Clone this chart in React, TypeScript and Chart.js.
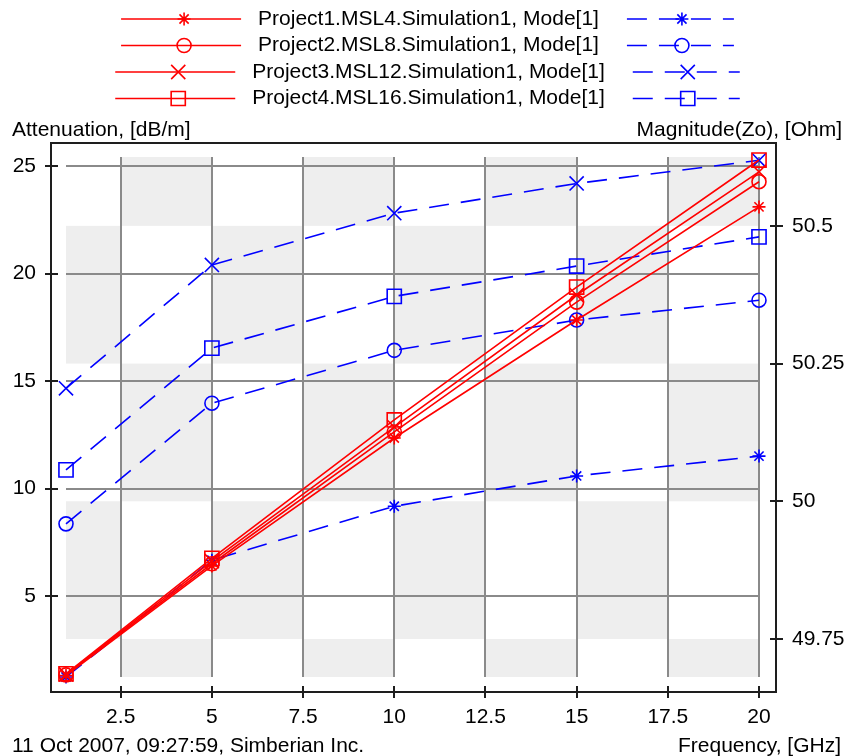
import React, { useEffect, useRef } from 'react';
import { Chart, registerables } from 'chart.js';
import { drawPoint } from 'chart.js/helpers';

Chart.register(...registerables);

// ---------------- data ----------------
const frequency = [1, 5, 10, 15, 20];
const seriesNames = [
  'Project1.MSL4.Simulation1, Mode[1]',
  'Project2.MSL8.Simulation1, Mode[1]',
  'Project3.MSL12.Simulation1, Mode[1]',
  'Project4.MSL16.Simulation1, Mode[1]',
];
const attenuation1 = [1.3, 6.4, 12.35, 17.84, 23.1];
const attenuation2 = [1.33, 6.5, 12.63, 18.67, 24.27];
const attenuation3 = [1.35, 6.62, 12.86, 19.0, 24.73];
const attenuation4 = [1.38, 6.75, 13.19, 19.37, 25.28];
const zo1 = [49.681, 49.893, 49.991, 50.046, 50.082];
const zo2 = [49.959, 50.178, 50.274, 50.329, 50.365];
const zo3 = [50.205, 50.429, 50.523, 50.577, 50.619];
const zo4 = [50.057, 50.278, 50.372, 50.427, 50.48];
const xTicks = [2.5, 5, 7.5, 10, 12.5, 15, 17.5, 20];
const leftTicks = [5, 10, 15, 20, 25];
const rightTicks = [49.75, 50, 50.25, 50.5];
const xRange = [1, 20];
const leftRange = [1.233, 25.42];
const rightRange = [49.681, 50.625];
const leftTitle = 'Attenuation, [dB/m]';
const rightTitle = 'Magnitude(Zo), [Ohm]';
const xTitle = 'Frequency, [GHz]';
const footer = '11 Oct 2007, 09:27:59, Simberian Inc.';

const markerStyles = ['star', 'circle', 'crossRot', 'rect'];
const markerRadius = [6.5, 7, 10, 10];
const RED = '#ff0000';
const BLUE = '#0000ff';
const DASH = [20, 12];

function pickFont() {
  const c = document.createElement('canvas').getContext('2d');
  if (!c) return { family: "'Liberation Sans', Arial, sans-serif", size: 21 };
  c.font = "26px 'Liberation Sans Narrow', monospace";
  const w1 = c.measureText('Project1.MSL4').width;
  c.font = '26px monospace';
  const w2 = c.measureText('Project1.MSL4').width;
  if (Math.abs(w1 - w2) > 1) return { family: "'Liberation Sans Narrow', 'Liberation Sans', sans-serif", size: 26 };
  return { family: "'Liberation Sans', Arial, sans-serif", size: 21 };
}

export default function App() {
  const ref = useRef<HTMLCanvasElement | null>(null);

  useEffect(() => {
    if (!ref.current) return;
    const F = pickFont();
    const fontStr = `${F.size}px ${F.family}`;
    const attSeries = [attenuation1, attenuation2, attenuation3, attenuation4];
    const zoSeries = [zo1, zo2, zo3, zo4];

    const datasets: any[] = [
      ...attSeries.map((arr, i) => ({
        label: seriesNames[i],
        data: frequency.map((f, j) => ({ x: f, y: arr[j] })),
        yAxisID: 'y',
        borderColor: RED,
        borderWidth: 1.6,
        pointStyle: markerStyles[i],
        pointRadius: markerRadius[i],
        pointBorderColor: RED,
        pointBackgroundColor: 'rgba(0,0,0,0)',
        pointBorderWidth: 1.6,
        fill: false,
        tension: 0,
        clip: false,
      })),
      ...zoSeries.map((arr, i) => ({
        label: seriesNames[i] + ' Zo',
        data: frequency.map((f, j) => ({ x: f, y: arr[j] })),
        yAxisID: 'y2',
        borderColor: BLUE,
        borderWidth: 1.6,
        borderDash: DASH,
        pointStyle: markerStyles[i],
        pointRadius: markerRadius[i],
        pointBorderColor: BLUE,
        pointBackgroundColor: 'rgba(0,0,0,0)',
        pointBorderWidth: 1.6,
        fill: false,
        tension: 0,
        clip: false,
      })),
    ];

    const decor = {
      id: 'decor',
      beforeDraw(chart: any) {
        const { ctx, scales } = chart;
        const xs = scales.x;
        const yr = scales.y2;
        const colB = [xs.min, ...xTicks];
        const rowB = [yr.max, ...rightTicks.slice().reverse(), yr.min];
        ctx.save();
        ctx.fillStyle = '#eeeeee';
        for (let c = 0; c < colB.length - 1; c++) {
          const x0 = xs.getPixelForValue(colB[c]);
          const x1 = xs.getPixelForValue(colB[c + 1]);
          for (let r = 0; r < rowB.length - 1; r++) {
            if ((c + r) % 2 === 1) {
              const y0 = yr.getPixelForValue(rowB[r]);
              const y1 = yr.getPixelForValue(rowB[r + 1]);
              ctx.fillRect(x0, y0, x1 - x0, y1 - y0);
            }
          }
        }
        ctx.restore();
      },
      afterDraw(chart: any) {
        const { ctx, chartArea: a, scales } = chart;
        const L = a.left - 15, T = a.top - 14, R = a.right + 17, B = a.bottom + 15;
        ctx.save();
        // frame
        ctx.strokeStyle = '#1e1e1e';
        ctx.lineWidth = 2;
        ctx.setLineDash([]);
        ctx.strokeRect(L, T, R - L, B - T);
        // tick marks
        ctx.beginPath();
        scales.y.ticks.forEach((t: any) => {
          const p = Math.round(scales.y.getPixelForValue(t.value));
          ctx.moveTo(L - 6, p); ctx.lineTo(L + 7, p);
        });
        scales.y2.ticks.forEach((t: any) => {
          const p = Math.round(scales.y2.getPixelForValue(t.value));
          ctx.moveTo(R - 6, p); ctx.lineTo(R + 7, p);
        });
        scales.x.ticks.forEach((t: any) => {
          const p = Math.round(scales.x.getPixelForValue(t.value));
          ctx.moveTo(p, B - 6); ctx.lineTo(p, B + 6);
        });
        ctx.stroke();

        // titles
        ctx.fillStyle = '#000';
        ctx.font = fontStr;
        ctx.textBaseline = 'middle';
        ctx.textAlign = 'left';
        ctx.fillText(leftTitle, 12, T - 13);
        ctx.fillText(footer, 12, B + 54);
        ctx.textAlign = 'right';
        ctx.fillText(rightTitle, 842, T - 13);
        ctx.fillText(xTitle, 841, B + 54);

        // legend
        const rowsY = [19, 45.5, 72, 98.5];
        const cx = 427.5;
        for (let i = 0; i < seriesNames.length; i++) {
          const y = rowsY[i];
          const w = ctx.measureText(seriesNames[i]).width;
          const total = 120 + 17 + w + 28 + 107;
          const s = cx - total / 2;
          const red = datasets[i];
          const blue = datasets[i + 4];
          // red sample
          ctx.setLineDash([]);
          ctx.strokeStyle = RED;
          ctx.lineWidth = 1.6;
          ctx.beginPath(); ctx.moveTo(s, y); ctx.lineTo(s + 120, y); ctx.stroke();
          ctx.fillStyle = 'rgba(0,0,0,0)';
          drawPoint(ctx, { pointStyle: red.pointStyle, radius: red.pointRadius, borderWidth: 1.6, rotation: 0 } as any, s + 63, y);
          // text
          ctx.fillStyle = '#000';
          ctx.textAlign = 'left';
          ctx.fillText(seriesNames[i], s + 137, y);
          // blue sample
          const bs = s + 137 + w + 28;
          ctx.strokeStyle = BLUE;
          ctx.lineWidth = 1.6;
          ctx.setLineDash(DASH);
          ctx.beginPath(); ctx.moveTo(bs, y); ctx.lineTo(bs + 107, y); ctx.stroke();
          ctx.setLineDash([]);
          ctx.fillStyle = 'rgba(0,0,0,0)';
          drawPoint(ctx, { pointStyle: blue.pointStyle, radius: blue.pointRadius, borderWidth: 1.6, rotation: 0 } as any, bs + 55, y);
        }
        ctx.restore();
      },
    };

    const gridOpts = { color: '#8a8a8a', lineWidth: 2, drawTicks: false };
    const tickFont = { family: F.family, size: F.size };

    const chart = new Chart(ref.current, {
      type: 'line',
      data: { datasets },
      options: {
        animation: false,
        responsive: false,
        events: [],
        layout: { padding: { top: 157, left: 0, right: 0, bottom: 0 } },
        plugins: { legend: { display: false }, tooltip: { enabled: false }, title: { display: false } },
        scales: {
          x: {
            type: 'linear',
            min: xRange[0],
            max: xRange[1],
            grid: gridOpts,
            border: { display: false },
            afterBuildTicks: (s: any) => { s.ticks = xTicks.map((v) => ({ value: v })); },
            afterFit: (s: any) => { s.height = 79; },
            ticks: { font: tickFont, color: '#000', padding: 28, maxRotation: 0, autoSkip: false, callback: (v: any) => String(v) },
          },
          y: {
            type: 'linear',
            position: 'left',
            min: leftRange[0],
            max: leftRange[1],
            grid: gridOpts,
            border: { display: false },
            afterBuildTicks: (s: any) => { s.ticks = leftTicks.map((v) => ({ value: v })); },
            afterFit: (s: any) => { s.width = 66; },
            ticks: { font: tickFont, color: '#000', padding: 30, autoSkip: false, callback: (v: any) => String(v) },
          },
          y2: {
            type: 'linear',
            position: 'right',
            min: rightRange[0],
            max: rightRange[1],
            grid: { display: false, drawTicks: false },
            border: { display: false },
            afterBuildTicks: (s: any) => { s.ticks = rightTicks.map((v) => ({ value: v })); },
            afterFit: (s: any) => { s.width = 89; },
            ticks: { font: tickFont, color: '#000', padding: 33, autoSkip: false, callback: (v: any) => String(v) },
          },
        },
      } as any,
      plugins: [decor],
    });
    return () => chart.destroy();
  }, []);

  return (
    <div style={{ position: 'absolute', left: 0, top: 0, width: 848, height: 756, background: '#fff' }}>
      <canvas ref={ref} width={848} height={756} style={{ display: 'block', width: 848, height: 756 }} />
    </div>
  );
}
